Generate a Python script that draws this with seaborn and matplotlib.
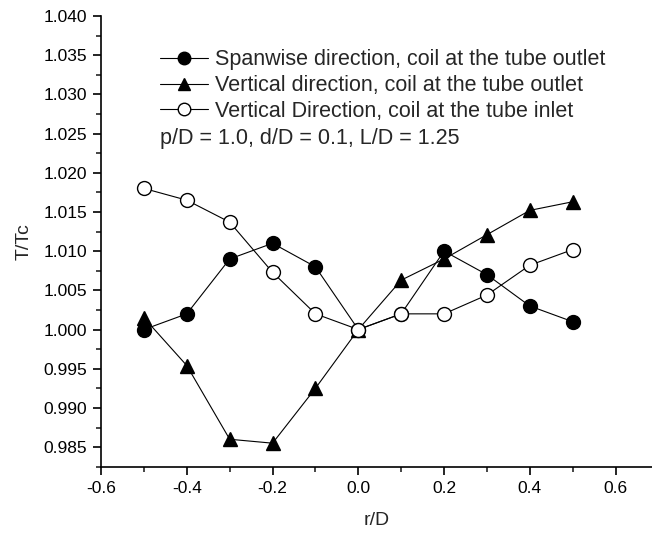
import matplotlib
matplotlib.use("Agg")
import matplotlib.pyplot as plt
import seaborn as sns
import pandas as pd
from matplotlib.ticker import MultipleLocator, FormatStrFormatter

r_D = [-0.5, -0.4, -0.3, -0.2, -0.1, 0.0, 0.1, 0.2, 0.3, 0.4, 0.5]
spanwise_outlet = [1.000, 1.002, 1.009, 1.011, 1.008, 1.000, 1.002, 1.010, 1.007, 1.003, 1.001]
vertical_outlet = [1.0015, 0.9954, 0.9860, 0.9855, 0.9925, 1.000, 1.0063, 1.009, 1.0121, 1.0152, 1.0163]
vertical_inlet = [1.018, 1.0165, 1.0137, 1.0073, 1.002, 1.000, 1.002, 1.002, 1.0044, 1.0082, 1.0102]
labels = ["Spanwise direction, coil at the tube outlet",
          "Vertical direction, coil at the tube outlet",
          "Vertical Direction, coil at the tube inlet"]
note = "p/D = 1.0, d/D = 0.1, L/D = 1.25"

sns.set_style("ticks")
plt.rcParams['font.family'] = ['Liberation Sans', 'DejaVu Sans']

fig = plt.figure(figsize=(6.52, 5.33), dpi=100)
ax = fig.add_axes([0.155, 0.1244, 0.845, 0.8456])

series = [
    (spanwise_outlet, 'o', 'black', labels[0]),
    (vertical_outlet, '^', 'black', labels[1]),
    (vertical_inlet, 'o', 'white', labels[2]),
]
for vals, mk, fc, lab in series:
    df = pd.DataFrame({'x': r_D, 'y': vals})
    sns.lineplot(data=df, x='x', y='y', ax=ax, color='black', linewidth=0.8,
                 marker=mk, markersize=10, markerfacecolor=fc,
                 markeredgecolor='black', markeredgewidth=1.0, label=lab)

ax.set_xlim(-0.6, 0.685)
ax.set_ylim(0.9825, 1.040)
ax.xaxis.set_major_locator(MultipleLocator(0.2))
ax.xaxis.set_minor_locator(MultipleLocator(0.1))
ax.yaxis.set_major_locator(MultipleLocator(0.005))
ax.yaxis.set_minor_locator(MultipleLocator(0.0025))
ax.xaxis.set_major_formatter(FormatStrFormatter('%.1f'))
ax.yaxis.set_major_formatter(FormatStrFormatter('%.3f'))
ax.tick_params(which='major', direction='out', length=6, width=1.2, labelsize=12.5,
               colors='black', pad=4)
ax.tick_params(which='minor', direction='out', length=3.5, width=1.2)
for s in ['top', 'right']:
    ax.spines[s].set_visible(False)
for s in ['left', 'bottom']:
    ax.spines[s].set_linewidth(1.2)
    ax.spines[s].set_color('black')

ax.set_xlabel('r/D', fontsize=14, labelpad=12)
ax.set_ylabel('T/Tc', fontsize=14, labelpad=8)

leg = ax.legend(loc='upper left', bbox_to_anchor=(0.092, 0.945), frameon=False,
                fontsize=15.5, handlelength=2.2, handletextpad=0.35,
                labelspacing=0.22, borderaxespad=0, markerscale=0.9)
ax.text(0.0, 0.0, note, fontsize=15.5, transform=ax.transAxes, va='top')
fig.canvas.draw()
bb = leg.get_window_extent().transformed(ax.transAxes.inverted())
ax.texts[-1].set_position((bb.x0 + 0.015, bb.y0 + 0.005))

fig.savefig('out.png', dpi=100)
